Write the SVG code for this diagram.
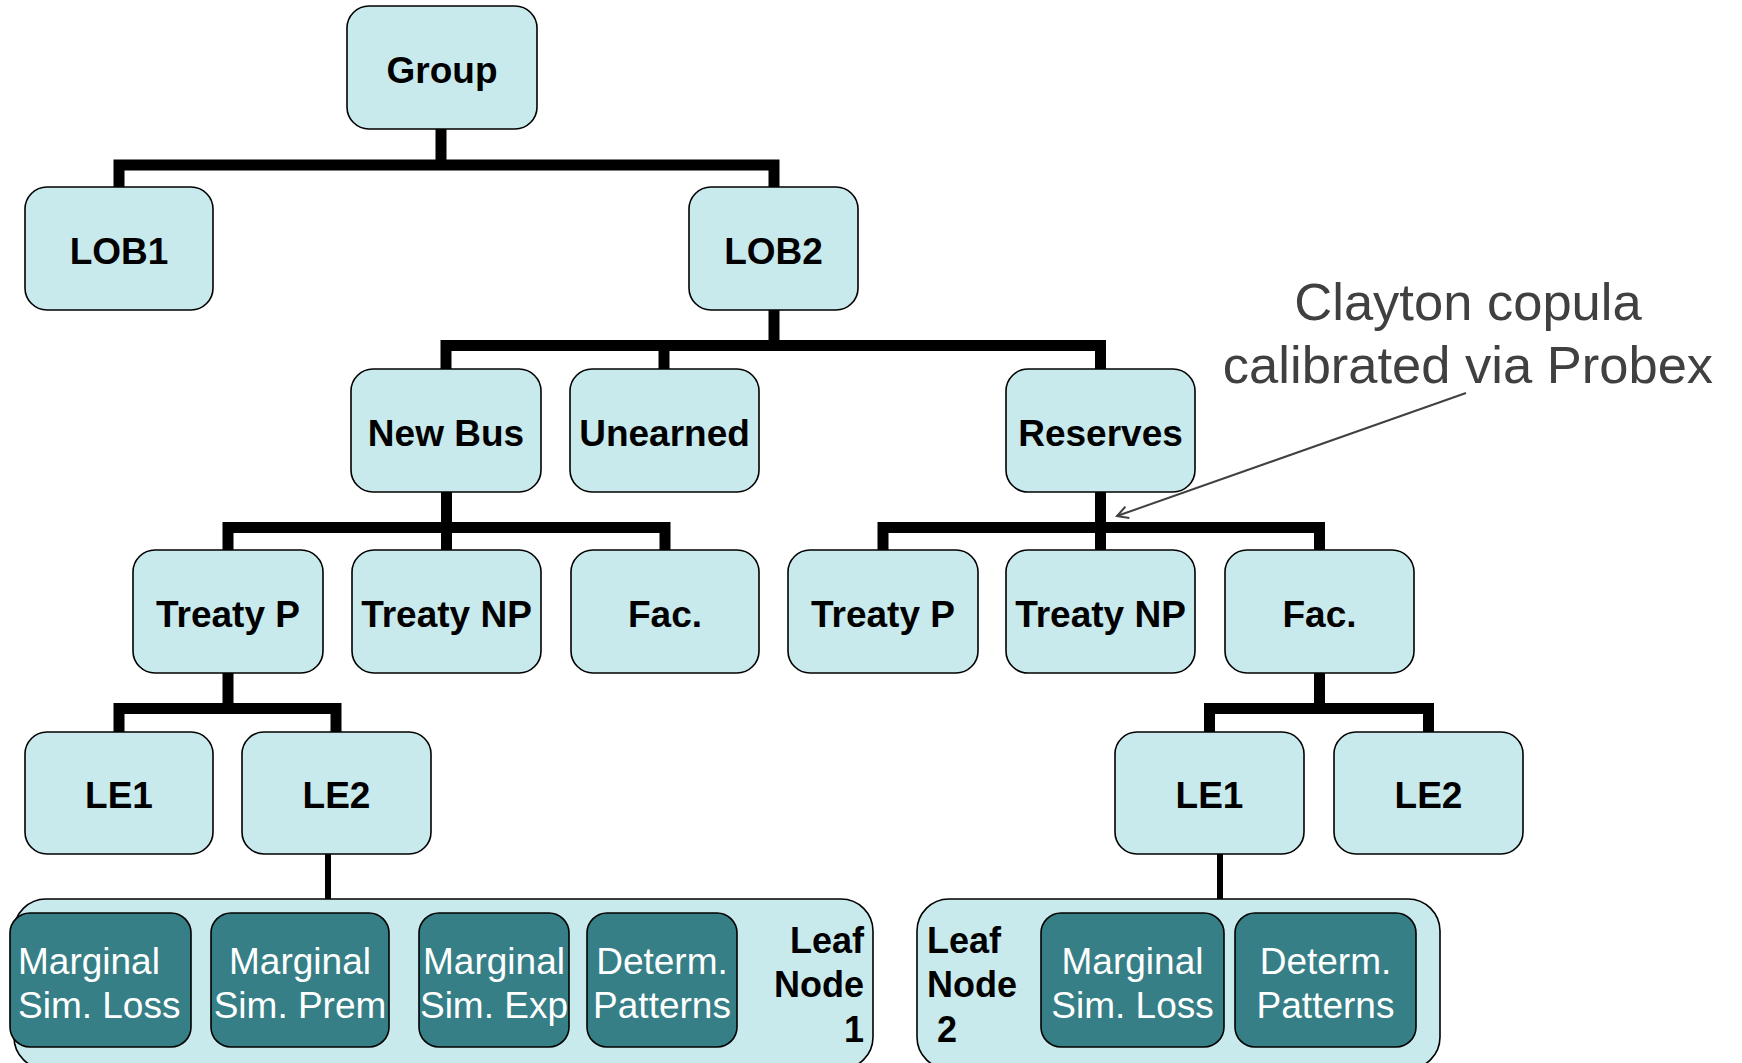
<svg xmlns="http://www.w3.org/2000/svg" width="1742" height="1063" viewBox="0 0 1742 1063">
<style>
.n{fill:#C9EAEC;stroke:#000;stroke-width:1.6}
.d{fill:#367F87;stroke:#000;stroke-width:1.6}
.t{font-family:"Liberation Sans",Arial,sans-serif;font-weight:bold;font-size:37px;fill:#000;text-anchor:middle}
.l{font-family:"Liberation Sans",Arial,sans-serif;font-weight:bold;font-size:36px;fill:#000}
.w{font-family:"Liberation Sans",Arial,sans-serif;font-size:37px;fill:#fff;text-anchor:middle}
.a{font-family:"Liberation Sans",Arial,sans-serif;font-size:52.5px;fill:#404040;text-anchor:middle}
.c{fill:none;stroke:#000;stroke-width:11;stroke-linejoin:miter}
.c2{fill:none;stroke:#000;stroke-width:6}
</style>
<defs>
<marker id="ah" markerWidth="14" markerHeight="14" refX="12" refY="7" orient="auto" markerUnits="userSpaceOnUse">
<path d="M1,1 L12,7 L1,13" fill="none" stroke="#404040" stroke-width="2"/>
</marker>
</defs>
<g id="connectors">
<path class="c" d="M119,187 V165 H774 V187 M441,129 V165"/>
<path class="c" d="M446,369 V345.5 H1100.5 V369 M664,345.5 V369 M774,310 V345.5"/>
<path class="c" d="M228,550 V527.5 H665 V550 M446.5,492 V550"/>
<path class="c" d="M883,550 V527.5 H1319.5 V550 M1100.5,492 V550"/>
<path class="c" d="M119,732 V708.5 H336 V732 M228,673 V708.5"/>
<path class="c" d="M1209.5,732 V708.5 H1428.5 V732 M1319.5,673 V708.5"/>
<path class="c2" d="M328,854 V899 M1220,854 V899"/>
<line x1="1466" y1="393" x2="1117" y2="516" stroke="#404040" stroke-width="2" marker-end="url(#ah)"/>
</g>
<g id="group"><rect class="n" x="347" y="6" width="190" height="123" rx="22"/><text class="t" x="442" y="82.5">Group</text></g>
<g id="lob1"><rect class="n" x="25" y="187" width="188" height="123" rx="22"/><text class="t" x="119" y="263.5">LOB1</text></g>
<g id="lob2"><rect class="n" x="689" y="187" width="169" height="123" rx="22"/><text class="t" x="773.5" y="263.5">LOB2</text></g>
<g id="newbus"><rect class="n" x="351" y="369" width="190" height="123" rx="22"/><text class="t" x="446" y="445.5">New Bus</text></g>
<g id="unearned"><rect class="n" x="570" y="369" width="189" height="123" rx="22"/><text class="t" x="664.5" y="445.5">Unearned</text></g>
<g id="reserves"><rect class="n" x="1006" y="369" width="189" height="123" rx="22"/><text class="t" x="1100.5" y="445.5">Reserves</text></g>
<g id="treatyp1"><rect class="n" x="133" y="550" width="190" height="123" rx="22"/><text class="t" x="228" y="626.5">Treaty P</text></g>
<g id="treatynp1"><rect class="n" x="352" y="550" width="189" height="123" rx="22"/><text class="t" x="446.5" y="626.5">Treaty NP</text></g>
<g id="fac1"><rect class="n" x="571" y="550" width="188" height="123" rx="22"/><text class="t" x="665" y="626.5">Fac.</text></g>
<g id="treatyp2"><rect class="n" x="788" y="550" width="190" height="123" rx="22"/><text class="t" x="883" y="626.5">Treaty P</text></g>
<g id="treatynp2"><rect class="n" x="1006" y="550" width="189" height="123" rx="22"/><text class="t" x="1100.5" y="626.5">Treaty NP</text></g>
<g id="fac2"><rect class="n" x="1225" y="550" width="189" height="123" rx="22"/><text class="t" x="1319.5" y="626.5">Fac.</text></g>
<g id="le1a"><rect class="n" x="25" y="732" width="188" height="122" rx="22"/><text class="t" x="119" y="807.5">LE1</text></g>
<g id="le2a"><rect class="n" x="242" y="732" width="189" height="122" rx="22"/><text class="t" x="336.5" y="807.5">LE2</text></g>
<g id="le1b"><rect class="n" x="1115" y="732" width="189" height="122" rx="22"/><text class="t" x="1209.5" y="807.5">LE1</text></g>
<g id="le2b"><rect class="n" x="1334" y="732" width="189" height="122" rx="22"/><text class="t" x="1428.5" y="807.5">LE2</text></g>
<g id="leaf1">
<rect class="n" x="14" y="899" width="859" height="170" rx="32"/>
<text class="l" text-anchor="end"><tspan x="864" y="953">Leaf</tspan><tspan x="864" y="997">Node</tspan><tspan x="864" y="1042">1</tspan></text>
<rect class="d" x="10" y="913" width="181" height="134" rx="20"/>
<text class="w" text-anchor="start" style="text-anchor:start"><tspan x="18" y="974">Marginal</tspan><tspan x="18" y="1018">Sim. Loss</tspan></text>
<rect class="d" x="211" y="913" width="178" height="134" rx="20"/>
<text class="w"><tspan x="300" y="974">Marginal</tspan><tspan x="300" y="1018">Sim. Prem</tspan></text>
<rect class="d" x="419" y="913" width="150" height="134" rx="20"/>
<text class="w"><tspan x="494" y="974">Marginal</tspan><tspan x="494" y="1018">Sim. Exp</tspan></text>
<rect class="d" x="587" y="913" width="150" height="134" rx="20"/>
<text class="w"><tspan x="662" y="974">Determ.</tspan><tspan x="662" y="1018">Patterns</tspan></text>
</g>
<g id="leaf2">
<rect class="n" x="917" y="899" width="523" height="170" rx="32"/>
<text class="l"><tspan x="927" y="953">Leaf</tspan><tspan x="927" y="997">Node</tspan><tspan x="937" y="1042">2</tspan></text>
<rect class="d" x="1041" y="913" width="183" height="134" rx="20"/>
<text class="w"><tspan x="1132.5" y="974">Marginal</tspan><tspan x="1132.5" y="1018">Sim. Loss</tspan></text>
<rect class="d" x="1235" y="913" width="181" height="134" rx="20"/>
<text class="w"><tspan x="1325.5" y="974">Determ.</tspan><tspan x="1325.5" y="1018">Patterns</tspan></text>
</g>
<g id="annotation">
<text class="a"><tspan x="1468" y="320">Clayton copula</tspan><tspan x="1468" y="383">calibrated via Probex</tspan></text>
</g>
</svg>
